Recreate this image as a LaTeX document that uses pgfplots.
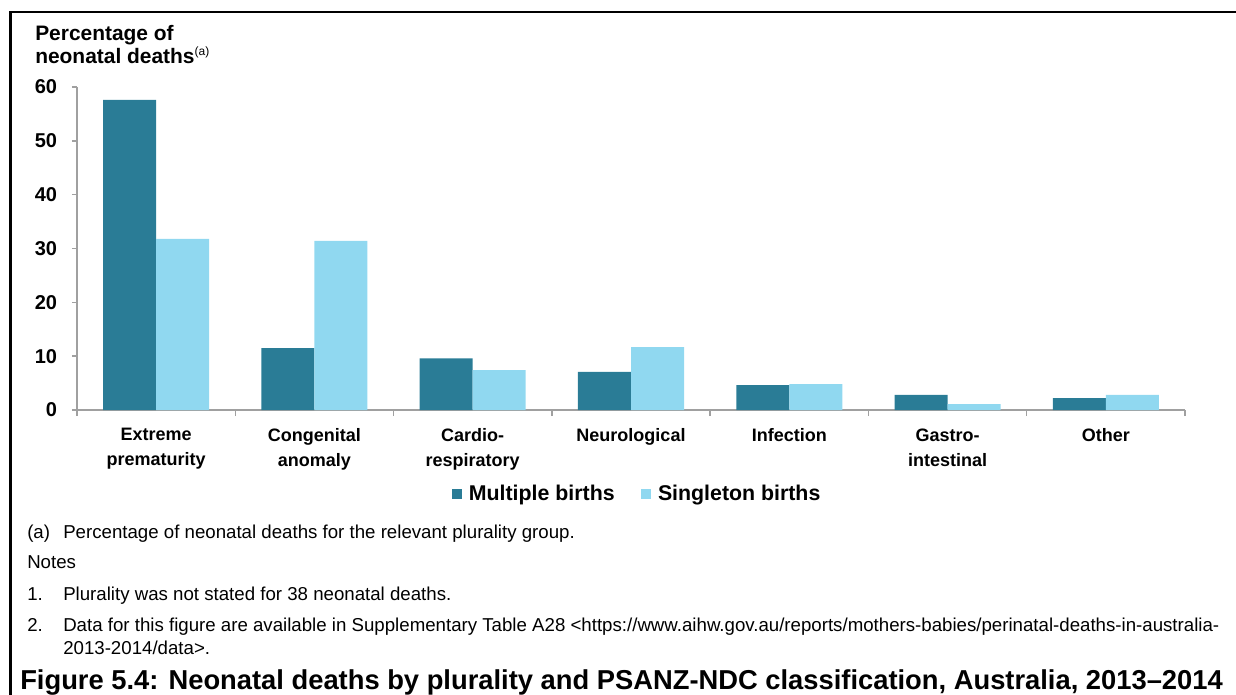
\documentclass[border=0pt]{standalone}
\usepackage{fontspec}
\setmainfont{Liberation Sans}
\usepackage{pgfplots}
\pgfplotsset{compat=1.18}
\definecolor{multi}{HTML}{2A7C96}
\definecolor{single}{HTML}{90D8F0}
\definecolor{axisgrey}{HTML}{A0A0A0}

\begin{document}
\begin{tikzpicture}
% page laid out in reference pixels (1px = 0.75pt, y downwards)
\begin{scope}[x=0.75pt,y=-0.75pt]
\useasboundingbox (0,0) rectangle (1236,695);
\clip (0,0) rectangle (1236,695);
\draw[line width=1.8pt] (10.5,700) -- (10.5,12) -- (1240,12);

\node[anchor=base west, inner sep=0pt, font=\fontsize{15.7}{18}\selectfont\bfseries] at (35,41) {Percentage of};
\node[anchor=base west, inner sep=0pt, font=\fontsize{15.7}{18}\selectfont\bfseries] at (35,64)
  {neonatal deaths\raisebox{6pt}{\fontsize{9}{10}\selectfont\mdseries(a)}};

% notes below the chart
\begin{scope}[every node/.style={anchor=base west, inner sep=0pt, font=\fontsize{14}{16}\selectfont}]
\node at (27,538) {(a)};
\node at (63,538) {Percentage of neonatal deaths for the relevant plurality group.};
\node at (27,568) {Notes};
\node at (27,600) {1.};
\node at (63,600) {Plurality was not stated for 38 neonatal deaths.};
\node at (27,631) {2.};
\node at (63,631) {Data for this figure are available in Supplementary Table A28 <https://www.aihw.gov.au/reports/mothers-babies/perinatal-deaths-in-australia-};
\node at (63,654) {2013-2014/data>.};
\end{scope}
\node[anchor=base west, inner sep=0pt, font=\fontsize{20.5}{24}\selectfont\bfseries] at (20,689)
  {Figure 5.4: Neonatal deaths by plurality and PSANZ-NDC classification, Australia, 2013–2014};
\end{scope}

\begin{axis}[
  at={(57.75pt,-307.5pt)}, anchor=south west,
  width=831pt, height=242.25pt, scale only axis,
  ybar=0pt, bar width=0.335,
  xmin=-0.5, xmax=6.5, ymin=0, ymax=60,
  axis x line*=bottom, axis y line*=left,
  axis line style={axisgrey, line width=1.1pt},
  ytick={0,10,...,60},
  xtick={0,...,6},
  xticklabels={Extreme\\prematurity, Congenital\\anomaly, Cardio-\\respiratory,
    Neurological, Infection, Gastro-\\intestinal, Other},
  minor xtick={-0.5,0.5,...,6.5},
  tick align=outside,
  every tick/.style={axisgrey, line width=1.1pt},
  every major x tick/.style={draw=none},
  major tick length=3.75pt, minor tick length=4.5pt,
  /pgf/number format/assume math mode=true,
  yticklabel style={font=\fontsize{15}{18}\selectfont\bfseries, inner sep=0pt, anchor=east, xshift=-11pt},
  xticklabel style={font=\fontsize{13.5}{18.75}\selectfont\bfseries, align=center, inner sep=0pt, anchor=north, yshift=-10pt},
  legend style={at={(0.506,-0.26)}, anchor=center, draw=none, legend columns=2,
    font=\fontsize{16}{18}\selectfont\bfseries,
    /tikz/every odd column/.append style={column sep=3pt},
    /tikz/every even column/.append style={column sep=18pt}},
  legend image code/.code={\fill[#1] (0pt,-3.75pt) rectangle (7.5pt,3.75pt);},
]
\addplot[fill=multi, draw=none] coordinates {
  (0,57.6) (1,11.5) (2,9.6) (3,7.1) (4,4.6) (5,2.8) (6,2.2)
};
\addlegendentry{Multiple births}
\addplot[fill=single, draw=none] coordinates {
  (0,31.8) (1,31.4) (2,7.4) (3,11.7) (4,4.8) (5,1.1) (6,2.8)
};
\addlegendentry{Singleton births}
\end{axis}
\end{tikzpicture}
\end{document}
